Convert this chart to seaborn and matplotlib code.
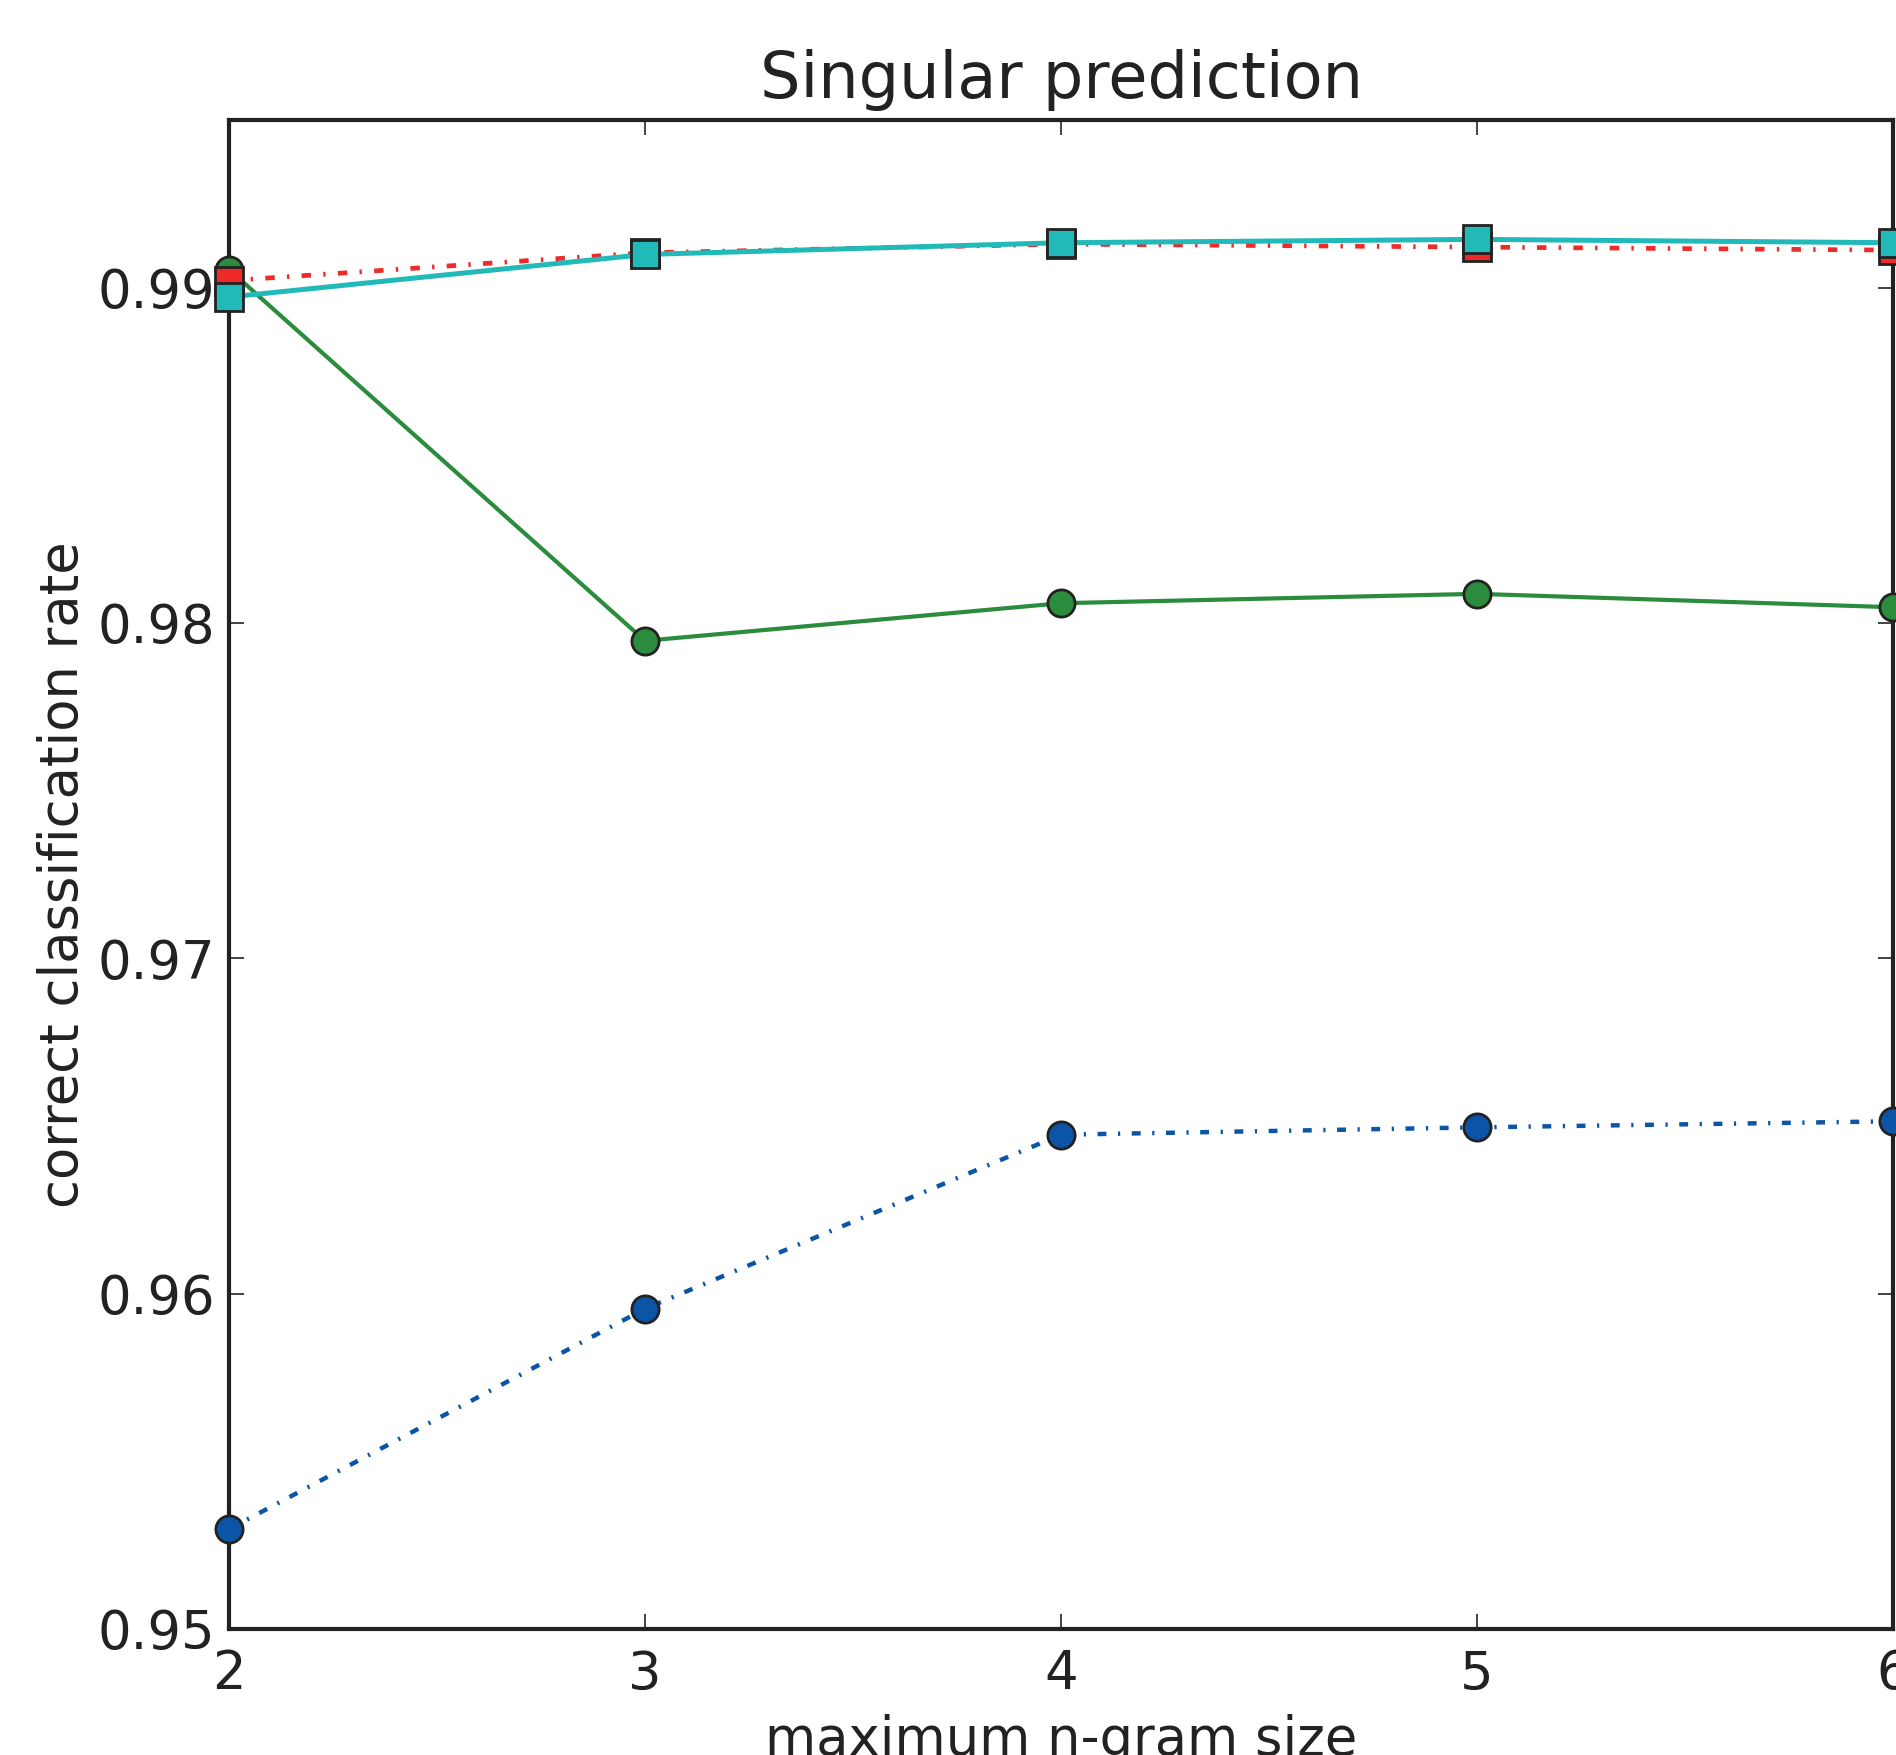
import matplotlib
matplotlib.use("Agg")
import matplotlib.pyplot as plt
import seaborn as sns
import pandas as pd

# ---- data ----
ngram_sizes = [2, 3, 4, 5, 6]
blue_rate = [0.95298, 0.95955, 0.96474, 0.96496, 0.96514]
green_rate = [0.99054, 0.97947, 0.98059, 0.98087, 0.98047]
red_rate = [0.99021, 0.99104, 0.99130, 0.99121, 0.99112]
cyan_rate = [0.98972, 0.99099, 0.99134, 0.99144, 0.99134]

title = "Singular prediction"
xlabel = "maximum n-gram size"
ylabel = "correct classification rate"
yticks = [0.95, 0.96, 0.97, 0.98, 0.99]
ytick_labels = ["0.95", "0.96", "0.97", "0.98", "0.99"]

sns.set_theme(style="white")
plt.rcParams['font.family'] = ['DejaVu Sans']

fig = plt.figure(figsize=(9.48, 8.775), dpi=200)
ax = fig.add_axes([229 / 1896, 126 / 1755, (1893 - 229) / 1896, (1629 - 120) / 1755])

edge = "#222222"
ms = 9.8
series = [
    (blue_rate, "#0c55a6", (2.0, 2.6, 0.5, 2.6), 1.6, "o"),
    (green_rate, "#2a8c3c", "", 1.5, "o"),
    (red_rate, "#ee2a2a", (2.0, 2.6, 0.5, 2.6), 1.7, "s"),
    (cyan_rate, "#22b9b9", "", 1.8, "s"),
]
for vals, color, dash, lw, mk in series:
    df = pd.DataFrame({"x": ngram_sizes, "y": vals})
    line_kw = dict(color=color, lw=lw, marker=mk, markersize=ms,
                   markerfacecolor=color, markeredgecolor=edge,
                   markeredgewidth=1.0, clip_on=False, zorder=3)
    sns.lineplot(data=df, x="x", y="y", ax=ax, **line_kw)
    ln = ax.lines[-1]
    if dash:
        ln.set_dashes(dash)

ax.set_xlim(2, 6)
ax.set_ylim(0.95, 0.995)
ax.set_xticks(ngram_sizes)
ax.set_xticklabels([str(v) for v in ngram_sizes])
ax.set_yticks(yticks)
ax.set_yticklabels(ytick_labels)

for s in ax.spines.values():
    s.set_linewidth(1.5)
    s.set_color("#222222")
    s.set_visible(True)

ax.tick_params(axis="both", which="major", direction="in", length=5.5, width=0.6,
               color="#222222", labelsize=19, labelcolor="#222222",
               top=True, right=True, bottom=True, left=True, pad=5)
ax.tick_params(axis="x", pad=7)

ax.set_title(title, fontsize=23, color="#222222", pad=8)
ax.set_xlabel(xlabel, fontsize=19, color="#222222", labelpad=5)
ax.set_ylabel(ylabel, fontsize=19, color="#222222", labelpad=3)
ax.grid(False)

fig.savefig("out.png", dpi=200)
